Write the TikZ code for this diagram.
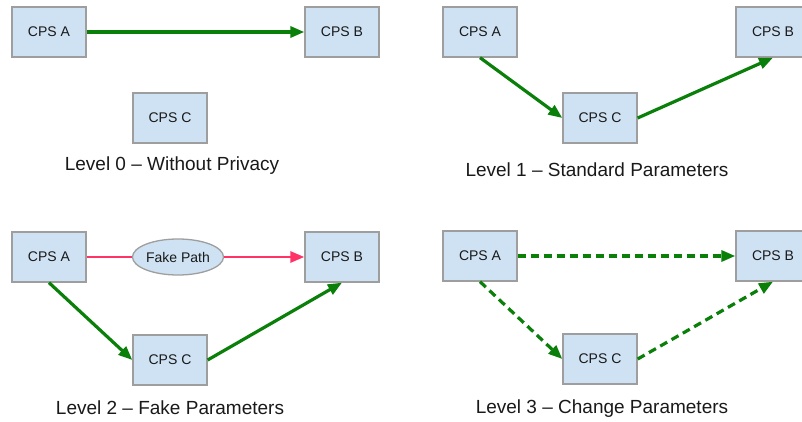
\documentclass[tikz,border=0pt]{standalone}
\usepackage{fontspec}
\setmainfont{Liberation Sans}
\usetikzlibrary{arrows.meta,shapes.geometric}
\definecolor{boxfill}{HTML}{CFE2F3}
\definecolor{boxline}{HTML}{9E9E9E}
\definecolor{flowgreen}{HTML}{0A7F0A}
\definecolor{fakepink}{HTML}{FF3366}
\tikzset{
  cps/.style={draw=boxline, fill=boxfill, line width=1.3pt, minimum width=74pt, minimum height=50pt, inner sep=0pt, font=\fontsize{14}{16}\selectfont, text=black!90},
  fakenode/.style={ellipse, draw=boxline, fill=boxfill, line width=1.3pt, minimum width=91pt, minimum height=36pt, inner sep=0pt, font=\fontsize{14}{16}\selectfont, text=black!90},
  tip/.style={-{Triangle[length=14pt,width=11pt]}},
  flow/.style={draw=flowgreen, line width=3.2pt, tip},
  dflow/.style={flow, dash pattern=on 8pt off 5pt},
  fakeflow/.style={draw=fakepink, line width=2.8pt},
  caption/.style={font=\fontsize{19}{22}\selectfont, text=black!90}
}
\begin{document}
\begin{tikzpicture}[x=1pt,y=-1pt]
\useasboundingbox (0,0) rectangle (802,422);
% Level 0
\node[cps] (a0) at (49,32) {CPS A};
\node[cps] (b0) at (342,32) {CPS B};
\node[cps] (c0) at (170,118) {CPS C};
\node[caption] (l0) at (172,166) {Level 0 -- Without Privacy};
\draw[flow] (a0.east) -- (b0.west);
% Level 1
\node[cps] (a1) at (480,32) {CPS A};
\node[cps] (b1) at (773,32) {CPS B};
\node[cps] (c1) at (600,118) {CPS C};
\node[caption] (l1) at (597,170) {Level 1 -- Standard Parameters};
\draw[flow] (a1.south) -- (c1.west);
\draw[flow] (c1.east) -- (b1.south);
% Level 2
\node[cps] (a2) at (49,257) {CPS A};
\node[cps] (b2) at (342,257) {CPS B};
\node[cps] (c2) at (170,360) {CPS C};
\node[fakenode] (f2) at (178,257) {Fake Path};
\node[caption] (l2) at (170,408) {Level 2 -- Fake Parameters};
\draw[fakeflow] (a2.east) -- (f2.west);
\draw[fakeflow, tip] (f2.east) -- (b2.west);
\draw[flow] (a2.south) -- (c2.west);
\draw[flow] (c2.east) -- (b2.south);
% Level 3
\node[cps] (a3) at (480,256) {CPS A};
\node[cps] (b3) at (773,256) {CPS B};
\node[cps] (c3) at (600,359) {CPS C};
\node[caption] (l3) at (602,409) {Level 3 -- Change Parameters};
\draw[dflow] (a3.east) -- (b3.west);
\draw[dflow] (a3.south) -- (c3.west);
\draw[dflow] (c3.east) -- (b3.south);
\end{tikzpicture}
\end{document}
